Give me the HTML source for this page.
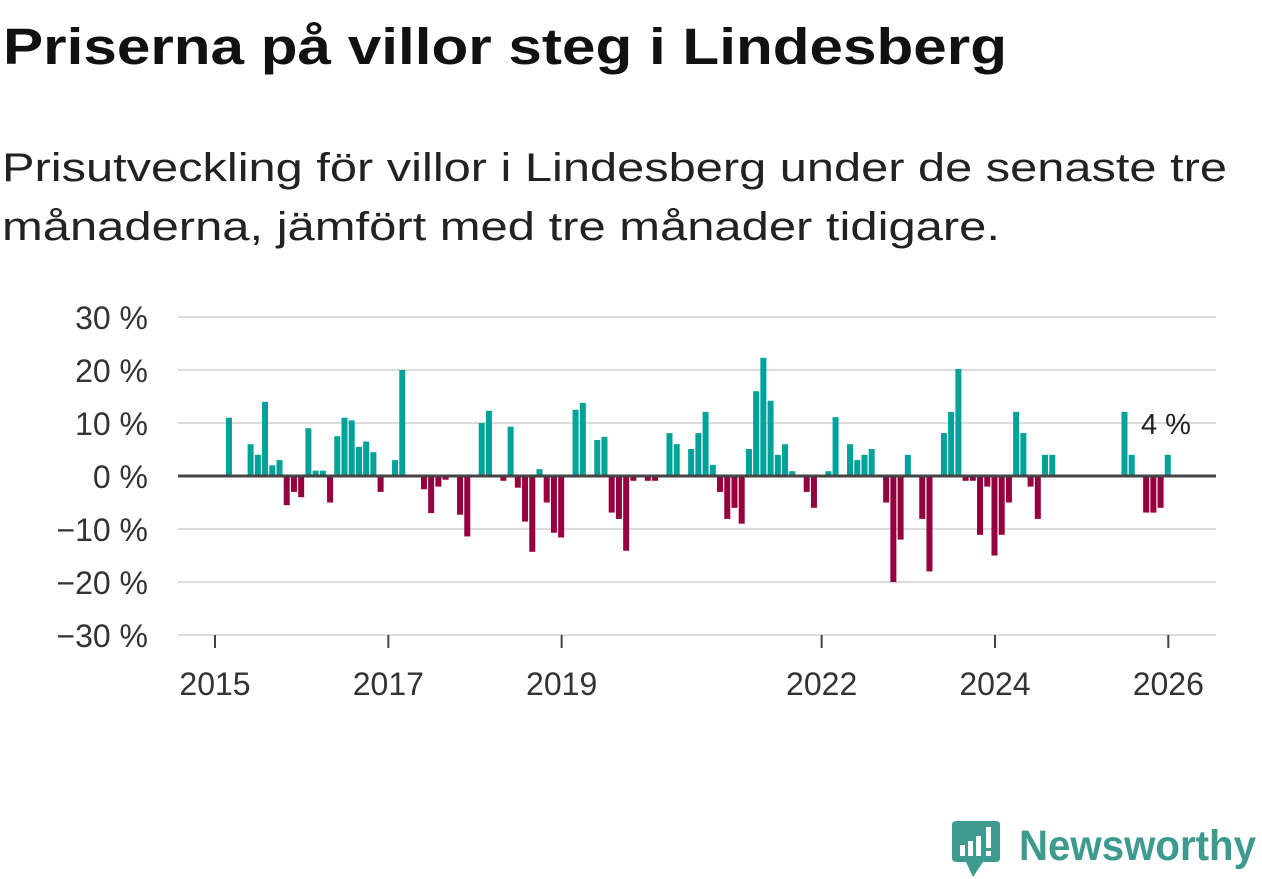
<!DOCTYPE html>
<html><head><meta charset="utf-8"><style>
html,body{margin:0;padding:0;background:#fff;}
svg{display:block;font-family:"Liberation Sans",sans-serif;}
</style></head><body>
<svg id="chart" width="1262" height="879" viewBox="0 0 1262 879" xmlns="http://www.w3.org/2000/svg">
<text x="3" y="64" font-size="51" font-weight="bold" fill="#111" textLength="1004" lengthAdjust="spacingAndGlyphs">Priserna på villor steg i Lindesberg</text>
<text x="2" y="181" font-size="40" fill="#222" textLength="1225" lengthAdjust="spacingAndGlyphs">Prisutveckling för villor i Lindesberg under de senaste tre</text>
<text x="2" y="240" font-size="40" fill="#222" textLength="998" lengthAdjust="spacingAndGlyphs">månaderna, jämfört med tre månader tidigare.</text>
<g id="grid"></g>
<g id="yticks"></g>
<g id="xticks"></g>
<g id="bars"></g>
<line x1="178" x2="1216" y1="476" y2="476" stroke="#444" stroke-width="3"/>
<text id="lastlabel" x="1166" y="434" font-size="29" fill="#222" text-anchor="middle">4 %</text>
<g>
<path d="M957,821 H996 Q1000,821 1000,825 V858 Q1000,862 996,862 H983 L973,877 L966,862 H957 Q952,862 952,858 V825 Q952,821 957,821 Z" fill="#3d9a8f"/>
<rect x="960" y="845" width="5" height="11" fill="#fff"/>
<rect x="968" y="841" width="5" height="15" fill="#fff"/>
<rect x="976" y="836" width="5" height="20" fill="#fff"/>
<rect x="986" y="827" width="5" height="21" fill="#fff"/>
<rect x="986" y="851" width="5" height="5" fill="#fff"/>
<text x="1019" y="860" font-size="43" font-weight="bold" fill="#3d9a8f" textLength="237" lengthAdjust="spacingAndGlyphs">Newsworthy</text>
</g>
</svg>
<script>
const yTicks = [30, 20, 10, 0, -10, -20, -30];
const yTickLabels = ["30 %", "20 %", "10 %", "0 %", "\u221210 %", "\u221220 %", "\u221230 %"];
const xTickYears = [2015, 2017, 2019, 2022, 2024, 2026];
// month index from Jan 2015 -> value (%)
const months = [2,5,6,7,8,9,10,11,12,13,14,15,16,17,18,19,20,21,22,23,25,26,29,30,31,32,34,35,37,38,40,41,42,43,44,45,46,47,48,50,51,53,54,55,56,57,58,60,61,63,64,66,67,68,69,70,71,72,73,74,75,76,77,78,79,80,82,83,85,86,88,89,90,91,93,94,95,96,98,99,101,102,103,104,105,106,107,108,109,110,111,112,113,114,115,116,126,127,129,130,131,132];
const values = [11,6,4,14,2,3,-5.5,-3,-4,9,1,1,-5,7.5,11,10.5,5.5,6.5,4.5,-3,3,20,-2.5,-7,-2,-0.7,-7.3,-11.4,10,12.3,-0.9,9.3,-2.2,-8.6,-14.3,1.3,-5,-10.7,-11.6,12.5,13.8,6.8,7.4,-6.9,-8.1,-14.1,-0.9,-0.9,-0.9,8.1,6,5.1,8.1,12.1,2.1,-3,-8.1,-6,-9,5.1,16,22.3,14.2,4,6,0.9,-3,-6,0.9,11.1,6,3,4,5.1,-5,-20,-12,4,-8.1,-18,8.1,12.1,20.2,-0.9,-0.9,-11.1,-2,-15,-11.1,-5,12.1,8.1,-2,-8.1,4,4,12.1,4,-6.9,-6.9,-6,4];

const NS = "http://www.w3.org/2000/svg";
const y = v => 476 - v * 5.3;
const x = m => 214.5 + m * 7.222;

const grid = document.getElementById('grid');
const yt = document.getElementById('yticks');
yTicks.forEach((t, i) => {
  if (t !== 0) {
    const l = document.createElementNS(NS, 'line');
    
    
    l.setAttribute('x1', 178); l.setAttribute('x2', 1216);
    l.setAttribute('y1', y(t)); l.setAttribute('y2', y(t));
    l.setAttribute('stroke', '#dcdcdc'); l.setAttribute('stroke-width', '2');
    grid.appendChild(l);
  }
  const tx = document.createElementNS(NS, 'text');
  
  
  tx.setAttribute('x', 148); tx.setAttribute('y', y(t) + 12);
  tx.setAttribute('text-anchor', 'end'); tx.setAttribute('font-size', '32');
  tx.setAttribute('fill', '#333');
  tx.textContent = yTickLabels[i];
  yt.appendChild(tx);
});

const xt = document.getElementById('xticks');
xTickYears.forEach(yr => {
  const px = x((yr - 2015) * 12) + 0.5;
  const l = document.createElementNS(NS, 'line');
  
  
  l.setAttribute('x1', px); l.setAttribute('x2', px);
  l.setAttribute('y1', 635); l.setAttribute('y2', 648);
  l.setAttribute('stroke', '#444'); l.setAttribute('stroke-width', '2');
  xt.appendChild(l);
  const tx = document.createElementNS(NS, 'text');
  
  
  tx.setAttribute('x', px); tx.setAttribute('y', 695);
  tx.setAttribute('text-anchor', 'middle'); tx.setAttribute('font-size', '32');
  tx.setAttribute('fill', '#333');
  tx.textContent = yr;
  xt.appendChild(tx);
});

const bars = document.getElementById('bars');
months.forEach((m, i) => {
  const v = values[i];
  const r = document.createElementNS(NS, 'rect');
  
  
  const top = Math.min(y(v), 476), h = Math.abs(y(v) - 476);
  r.setAttribute('x', x(m) - 3); r.setAttribute('width', 6);
  r.setAttribute('y', top); r.setAttribute('height', h);
  r.setAttribute('fill', v >= 0 ? '#00a29a' : '#96003c');
  bars.appendChild(r);
});
</script>
</body></html>
